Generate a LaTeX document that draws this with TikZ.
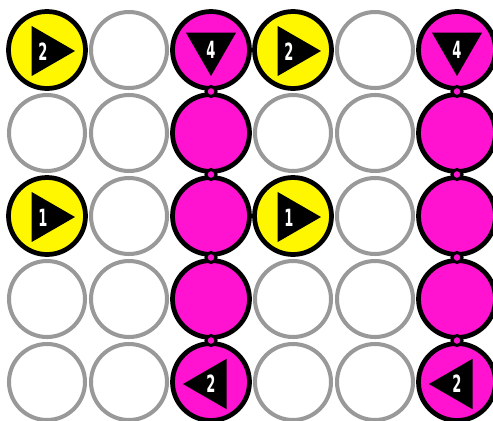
\documentclass[tikz,border=0pt]{standalone}
\usepackage{fontspec}
\usetikzlibrary{shapes.geometric,calc}
\newfontfamily\ziffer[FakeStretch=0.55]{DejaVu Sans Bold}
\definecolor{ring}{HTML}{999999}
\definecolor{gelb}{HTML}{FFF700}
\definecolor{pink}{HTML}{FF12D0}
\tikzset{
  leer/.style={circle,draw=ring,line width=2.3pt,minimum size=1.52cm,inner sep=0pt},
  gelbfeld/.style={circle,fill=gelb,draw=black,line width=2.7pt,minimum size=1.54cm,inner sep=0pt},
  pinkfeld/.style={circle,fill=pink,draw=black,line width=2.7pt,minimum size=1.54cm,inner sep=0pt},
  punkt/.style={circle,fill=pink,draw=black,line width=1.7pt,minimum size=0.2cm,inner sep=0pt},
  pfeil/.style={regular polygon,regular polygon sides=3,fill=black,
    minimum size=1.16cm,inner sep=0pt},
  zahl/.style={text=white,inner sep=0pt,font=\ziffer\fontsize{13.5pt}{15pt}\selectfont},
}
\begin{document}
\begin{tikzpicture}[x=0.02cm,y=-0.02cm]
  \path[use as bounding box,clip] (0,0) rectangle (493,420);
  % leere Felder
  \foreach \c/\x in {2/129,5/375}
    \foreach \r/\y in {1/50,2/133,3/216,4/299,5/382}
      \node[leer] (k\c\r) at (\x,\y) {};
  \foreach \c/\x in {1/47,4/293}
    \foreach \r/\y in {2/133,4/299,5/382}
      \node[leer] (k\c\r) at (\x,\y) {};
  % gelbe Felder
  \node[gelbfeld] (k11) at (47,50) {};
  \node[gelbfeld] (k13) at (47,216) {};
  \node[gelbfeld] (k41) at (293,50) {};
  \node[gelbfeld] (k43) at (293,216) {};
  % pinke Spalten
  \foreach \c/\x in {3/211,6/457}
    \foreach \r/\y in {1/50,2/133,3/216,4/299,5/382}
      \node[pinkfeld] (k\c\r) at (\x,\y) {};
  % Verbindungspunkte
  \foreach \c in {3,6}
    \foreach \r/\s in {1/2,2/3,3/4,4/5}
      \node[punkt] (p\c\r) at ($(k\c\r)!0.5!(k\c\s)$) {};
  % Pfeile
  \foreach \k/\z in {11/2,13/1,41/2,43/1} {
    \node[pfeil,regular polygon rotate=-90] (a\k) at ($(k\k)+(-1,1)$) {};
    \node[zahl] at ($(a\k)+(-3,1)$) {\z};
  }
  \foreach \k in {31,61} {
    \node[pfeil,regular polygon rotate=180] (a\k) at ($(k\k)+(0,-3)$) {};
    \node[zahl] at ($(a\k)+(0,3)$) {4};
  }
  \foreach \k in {35,65} {
    \node[pfeil,regular polygon rotate=90] (a\k) at ($(k\k)+(1,2)$) {};
    \node[zahl] at ($(a\k)+(-1,0)$) {2};
  }
\end{tikzpicture}
\end{document}
